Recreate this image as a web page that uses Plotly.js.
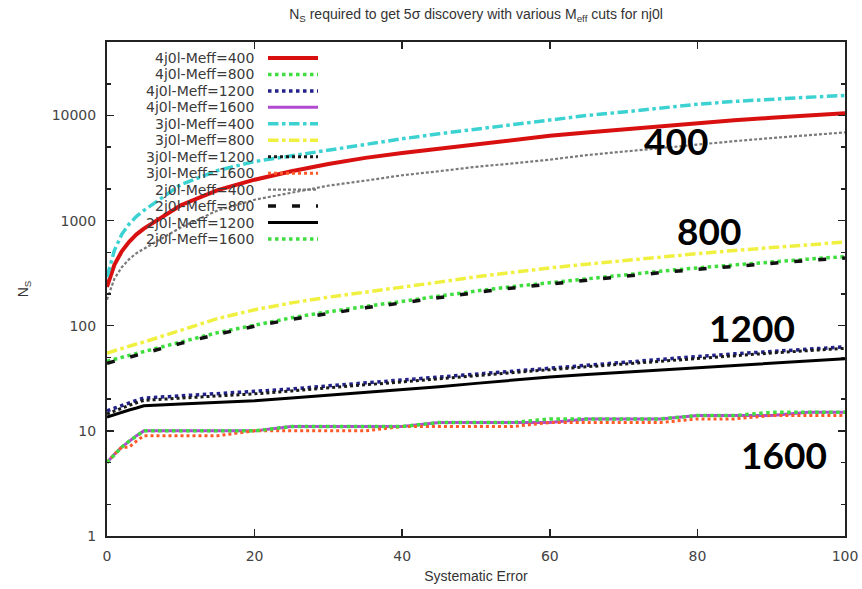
<!DOCTYPE html>
<html>
<head>
<meta charset="utf-8">
<script src="https://cdn.plot.ly/plotly-3.0.1.min.js"></script>
<style>html,body{margin:0;padding:0;background:#fff;}#chart{width:862px;height:589px;}</style>
</head>
<body>
<div id="chart"></div>
<script>
// ---- data ----
const sysError = [0,1,2,3,4,5,10,15,20,25,30,35,40,45,50,55,60,65,70,75,80,85,90,95,100];

const n4j400  = [234,380,510,630,740,840,1400,1950,2450,2950,3450,3950,4400,4850,5350,5900,6400,6900,7400,7950,8500,9000,9500,10000,10500];
const n4j800  = [46,48,50.5,52.5,55,57,70,86,102,119,136,153,170,192,214,236,257,281,305,330,355,380,405,430,455];
const n4j1200 = [15.5,16.5,17.5,18.5,19.5,20.5,21.5,22.5,23.5,25,26.8,28.6,30.5,32.7,35,37.4,40,42.6,45.2,48,51,54,57,60,63];
const n4j1600 = [5,6,7,8,9,10,10,10,10,11,11,11,11,12,12,12,12,13,13,13,14,14,14,15,15];
const n3j400  = [290,520,740,930,1100,1250,2200,3000,3650,4150,4700,5300,6000,6700,7400,8200,9200,10000,10800,11800,12800,13600,14300,14900,15500];
const n3j800  = [55,58,61,64,67,70,91,117,142,165,187,208,230,260,292,323,355,385,418,450,485,520,555,590,625];
const n3j1200 = [14.5,15.5,16.5,17.5,18.5,19.5,20.5,21.5,22.5,24,25.7,27.4,29.2,31.3,33.5,35.8,38.2,40.7,43.3,46,49,52,55,58,61];
const n3j1600 = [5,6,7,7,8,9,9,9,10,10,10,10,11,11,11,11,12,12,12,12,13,13,14,14,14];
const n2j400  = [177,280,360,430,490,540,860,1250,1580,1850,2150,2400,2700,2950,3250,3500,3800,4200,4550,4900,5300,5700,6100,6500,6900];
const n2j800  = [44,46,48.5,50.5,53,55,68,83,99,115,131,148,165,186,207,229,250,273,296,320,344,368,393,418,440];
const n2j1200 = [13.5,14.3,15,15.8,16.5,17.3,18,18.6,19.3,20.5,21.8,23.2,24.6,26.3,28.3,30.4,32.6,34.4,36.2,38.1,40,42,44.1,46.3,48.6];
const n2j1600 = [5,6,7,8,9,10,10,10,10,11,11,11,11,12,12,12,13,13,13,13,14,14,15,15,15];

const seriesNames = ["4j0l-Meff=400","4j0l-Meff=800","4j0l-Meff=1200","4j0l-Meff=1600",
                     "3j0l-Meff=400","3j0l-Meff=800","3j0l-Meff=1200","3j0l-Meff=1600",
                     "2j0l-Meff=400","2j0l-Meff=800","2j0l-Meff=1200","2j0l-Meff=1600"];
const seriesValues = [n4j400,n4j800,n4j1200,n4j1600,n3j400,n3j800,n3j1200,n3j1600,n2j400,n2j800,n2j1200,n2j1600];

const yTickVals = [1,10,100,1000,10000];
const yTickText = ["1","10","100","1000","10000"];
const yMinorVals = [2,5,20,50,200,500,2000,5000,20000];
const xTickVals = [0,20,40,60,80,100];

const groupLabels = ["400","800","1200","1600"];

// ---- styles ----
const styles = [
  {color:"#d81010", width:4,   dash:"solid"},
  {color:"#3ede3e", width:3.5, dash:"dot"},
  {color:"#22228a", width:3.5, dash:"dot"},
  {color:"#b04ad0", width:3,   dash:"solid"},
  {color:"#3cd2d2", width:3.5, dash:"dashdot"},
  {color:"#f0f040", width:3.5, dash:"dashdot"},
  {color:"#1a1a1a", width:3,   dash:"dot"},
  {color:"#ff5a28", width:3,   dash:"dot"},
  {color:"#7a7a7a", width:2.2, dash:"3px,2px"},
  {color:"#111111", width:3.5, dash:"8px,16px"},
  {color:"#000000", width:3,   dash:"solid"},
  {color:"#40dd40", width:3.5, dash:"dot"}
];

const traces = seriesNames.map((nm,i)=>({
  type:"scatter", mode:"lines", name:nm,
  x: sysError, y: seriesValues[i],
  line:{color:styles[i].color, width:styles[i].width, dash:styles[i].dash},
  showlegend:false
}));

// plot area in pixels
const L=107, R=845, T=42, B=536;
const W=862, H=589;
const px2paperX = p => (p-L)/(R-L);
const px2paperY = p => (B-p)/(B-T);

const annotations = [];
const shapes = [];
seriesNames.forEach((nm,i)=>{
  const py = 58 + i*16.45;
  annotations.push({
    xref:"paper", yref:"paper", x:px2paperX(256), y:px2paperY(py),
    xanchor:"right", yanchor:"middle", showarrow:false, text:nm,
    font:{family:"DejaVu Sans", size:14, color:"#3a3a3a"}
  });
  shapes.push({
    type:"line", xref:"paper", yref:"paper",
    x0:px2paperX(268), x1:px2paperX(318), y0:px2paperY(py), y1:px2paperY(py),
    line:{color:styles[i].color, width:styles[i].width, dash:styles[i].dash}
  });
});

const labelPos = [[77.1,3.76],[81.6,2.905],[87.4,1.98],[91.7,0.771]];
groupLabels.forEach((g,i)=>{
  annotations.push({
    xref:"x", yref:"y", x:labelPos[i][0], y:labelPos[i][1],
    xanchor:"center", yanchor:"middle", showarrow:false, text:"<b>"+g+"</b>",
    font:{family:"Lato", size:37, color:"#000"}
  });
});

const layout = {
  width:W, height:H,
  margin:{l:L, r:W-R, t:T, b:H-B},
  paper_bgcolor:"#fff", plot_bgcolor:"#fff",
  title:{
    text:"N<sub>S</sub> required to get 5σ discovery with various M<sub>eff</sub> cuts for nj0l",
    x:0.5, xref:"paper", xanchor:"center", y:1-14/H, yanchor:"middle",
    font:{family:"Liberation Sans", size:14, color:"#333"}
  },
  xaxis:{
    range:[0,100], tickmode:"array", tickvals:xTickVals,
    ticks:"inside", ticklen:7, tickwidth:1.5, tickcolor:"#222",
    showline:true, linecolor:"#222", linewidth:2, mirror:"allticks",
    showgrid:false, zeroline:false, ticklabelstandoff:6,
    tickfont:{family:"DejaVu Sans", size:14, color:"#444"},
    title:{text:"Systematic Error", standoff:8, font:{family:"Liberation Sans", size:14, color:"#333"}}
  },
  yaxis:{
    type:"log", range:[0, Math.log10(50000)],
    tickmode:"array", tickvals:yTickVals, ticktext:yTickText,
    ticks:"inside", ticklen:7, tickwidth:1.5, tickcolor:"#222",
    minor:{tickmode:"array", tickvals:yMinorVals, ticks:"inside", ticklen:4, tickcolor:"#222", showgrid:false},
    showline:true, linecolor:"#222", linewidth:2, mirror:"allticks",
    showgrid:false, zeroline:false, ticklabelstandoff:6,
    tickfont:{family:"DejaVu Sans", size:14, color:"#444"},
    title:{text:"N<sub>S</sub>", standoff:20, font:{family:"Liberation Sans", size:14, color:"#333"}}
  },
  annotations:annotations,
  shapes:shapes,
  showlegend:false
};

Plotly.newPlot("chart", traces, layout, {staticPlot:true, displayModeBar:false});
</script>
</body>
</html>
